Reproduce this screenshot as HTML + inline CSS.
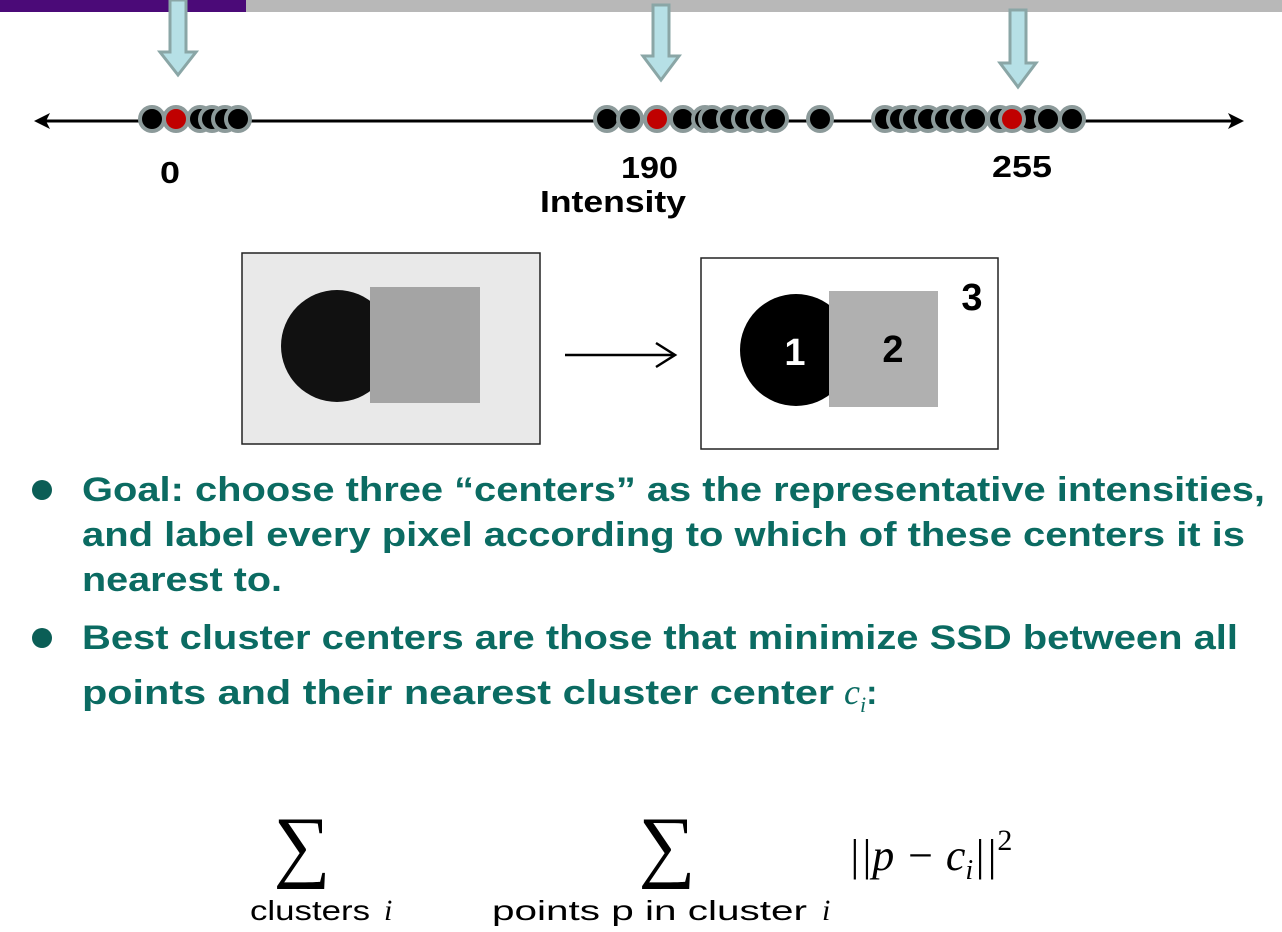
<!DOCTYPE html>
<html><head><meta charset="utf-8"><style>
html,body{margin:0;padding:0;background:#fff;}
body{width:1282px;height:932px;overflow:hidden;position:relative;}
svg{position:absolute;left:0;top:0;}
</style></head><body>
<svg width="1282" height="932" viewBox="0 0 1282 932" xmlns="http://www.w3.org/2000/svg">
<rect x="0" y="0" width="246" height="12" fill="#4b0a78"/>
<rect x="246" y="0" width="1036" height="12" fill="#b8b8b8"/>
<line x1="45" y1="121" x2="1232" y2="121" stroke="#000" stroke-width="3"/>
<polygon points="34,121 50,113 46,121 50,129" fill="#000"/>
<polygon points="1244,121 1228,113 1232,121 1228,129" fill="#000"/>
<g fill="#b6e0e6" stroke="#8aa6a6" stroke-width="3">
<polygon points="170,0 186,0 186,52 196,52 178,75 160,52 170,52"/>
<polygon points="653,5 669,5 669,56 679,56 661,80 643,56 653,56"/>
<polygon points="1010,10 1026,10 1026,63 1036,63 1018,87 1000,63 1010,63"/>
</g>
<g stroke="#8c9a9a" stroke-width="4" fill="#000">
<circle cx="152" cy="119" r="12"/>
<circle cx="200" cy="119" r="12"/><circle cx="212" cy="119" r="12"/><circle cx="225" cy="119" r="12"/><circle cx="238" cy="119" r="12"/>
<circle cx="176" cy="119" r="12" fill="#c00000"/>
<circle cx="607" cy="119" r="12"/><circle cx="630" cy="119" r="12"/>
<circle cx="683" cy="119" r="12"/><circle cx="705" cy="119" r="12"/><circle cx="712" cy="119" r="12"/><circle cx="730" cy="119" r="12"/><circle cx="745" cy="119" r="12"/><circle cx="760" cy="119" r="12"/><circle cx="775" cy="119" r="12"/>
<circle cx="657" cy="119" r="12" fill="#c00000"/>
<circle cx="820" cy="119" r="12"/>
<circle cx="885" cy="119" r="12"/><circle cx="900" cy="119" r="12"/><circle cx="913" cy="119" r="12"/><circle cx="928" cy="119" r="12"/><circle cx="945" cy="119" r="12"/><circle cx="960" cy="119" r="12"/><circle cx="975" cy="119" r="12"/><circle cx="1000" cy="119" r="12"/>
<circle cx="1030" cy="119" r="12"/><circle cx="1048" cy="119" r="12"/><circle cx="1072" cy="119" r="12"/>
<circle cx="1012" cy="119" r="12" fill="#c00000"/>
</g>
<g font-family="Liberation Sans, sans-serif" font-weight="bold" font-size="31" fill="#000">
<text x="160" y="183" textLength="20" lengthAdjust="spacingAndGlyphs">0</text>
<text x="621" y="178" textLength="57" lengthAdjust="spacingAndGlyphs">190</text>
<text x="992" y="177" textLength="60" lengthAdjust="spacingAndGlyphs">255</text>
<text x="540" y="212" textLength="146" lengthAdjust="spacingAndGlyphs">Intensity</text>
</g>
<rect x="242" y="253" width="298" height="191" fill="#e9e9e9" stroke="#222" stroke-width="1.5"/>
<circle cx="337" cy="346" r="56" fill="#111"/>
<rect x="370" y="287" width="110" height="116" fill="#a4a4a4"/>
<line x1="565" y1="355" x2="674" y2="355" stroke="#000" stroke-width="2.5"/>
<polyline points="656,343 675,355 656,367" fill="none" stroke="#000" stroke-width="2.5"/>
<rect x="701" y="258" width="297" height="191" fill="#fff" stroke="#222" stroke-width="1.5"/>
<circle cx="796" cy="350" r="56" fill="#000"/>
<rect x="829" y="291" width="109" height="116" fill="#b0b0b0"/>
<g font-family="Liberation Sans, sans-serif" font-weight="bold" font-size="38" text-anchor="middle">
<text x="795" y="365" fill="#fff">1</text>
<text x="893" y="362" fill="#000">2</text>
<text x="972" y="310" fill="#000">3</text>
</g>
<circle cx="42" cy="490" r="10" fill="#0b5e56"/>
<circle cx="42" cy="638" r="10" fill="#0b5e56"/>
<g font-family="Liberation Sans, sans-serif" font-weight="bold" font-size="34" fill="#0b6b62">
<text x="82" y="501" textLength="1183" lengthAdjust="spacingAndGlyphs">Goal: choose three “centers” as the representative intensities,</text>
<text x="82" y="546" textLength="1163" lengthAdjust="spacingAndGlyphs">and label every pixel according to which of these centers it is</text>
<text x="82" y="591" textLength="200" lengthAdjust="spacingAndGlyphs">nearest to.</text>
<text x="82" y="649" textLength="1156" lengthAdjust="spacingAndGlyphs">Best cluster centers are those that minimize SSD between all</text>
<text x="82" y="704" textLength="752" lengthAdjust="spacingAndGlyphs">points and their nearest cluster center</text>
<text x="844" y="704" font-family="Liberation Serif, serif" font-style="italic" font-weight="normal" font-size="36">c<tspan font-size="22" dy="8">i</tspan><tspan dy="-8" font-family="Liberation Sans, sans-serif" font-weight="bold" font-style="normal" font-size="34">:</tspan></text>
</g>
<g font-family="Liberation Serif, serif" fill="#000">
<text x="302" y="872" font-size="80" text-anchor="middle">∑</text>
<text x="667" y="872" font-size="80" text-anchor="middle">∑</text>
<text x="848" y="870" font-size="44" font-style="italic">||p − c<tspan font-size="28" dy="9">i</tspan><tspan dy="-9">||</tspan><tspan font-size="30" font-style="normal" dy="-20">2</tspan></text>
</g>
<g font-family="Liberation Sans, sans-serif" font-size="28" fill="#000">
<text x="250" y="920" textLength="120" lengthAdjust="spacingAndGlyphs">clusters</text>
<text x="384" y="920" font-family="Liberation Serif, serif" font-style="italic" font-size="30">i</text>
<text x="492" y="920" textLength="315" lengthAdjust="spacingAndGlyphs">points p in cluster</text>
<text x="822" y="920" font-family="Liberation Serif, serif" font-style="italic" font-size="30">i</text>
</g>
</svg>
</body></html>
